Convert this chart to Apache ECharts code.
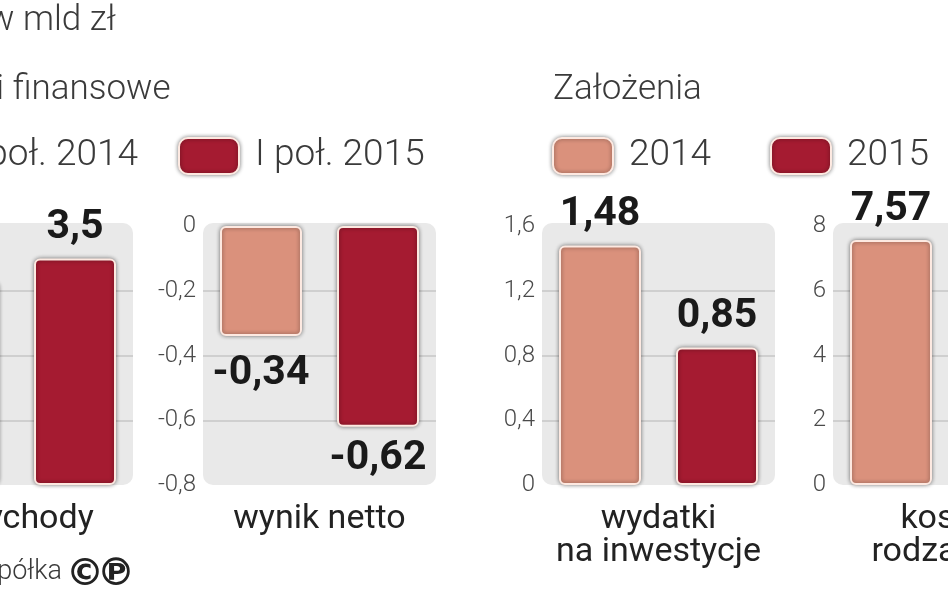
<!DOCTYPE html>
<html><head><meta charset="utf-8">
<script src="https://cdn.jsdelivr.net/npm/echarts@6/dist/echarts.min.js"></script>
<style>html,body{margin:0;padding:0;background:#fff}#c{width:948px;height:593px}</style>
</head><body><div id="c"></div>
<script>
// ---- data ----
const categories = ['przychody', 'wynik netto', 'wydatki\nna inwestycje', 'koszty\nrodzajowe'];
const seriesNames = [['I poł. 2014', 'I poł. 2015'], ['I poł. 2014', 'I poł. 2015'], ['2014', '2015'], ['2014', '2015']];
const values2014 = [3.14, -0.34, 1.48, 7.57];
const values2015 = [3.5, -0.62, 0.85, 7.2];
const axisMin = [0, -0.8, 0, 0];
const axisMax = [4, 0, 1.6, 8];
const axisStep = [1, 0.2, 0.4, 2];

// ---- layout / style ----
const panelLeft = [-100, 203, 542, 833];
const panelW = 233, panelTop = 226, panelH = 259;
const c2014 = '#da917c', c2015 = '#a51b31';
const fmt = v => String(+v.toFixed(2)).replace('.', ',');
const valueFont = "Roboto, sans-serif";
const barStyle = c => ({ color: c, borderColor: '#fde9e1', borderWidth: 2, borderRadius: 5,
  shadowBlur: 4, shadowColor: 'rgba(0,0,0,0.45)' });

const grids = [], xAxes = [], yAxes = [], series = [], graphics = [];
for (let i = 0; i < 4; i++) {
  grids.push({ left: panelLeft[i], top: panelTop, width: panelW, height: panelH,
    outerBoundsMode: 'none', containLabel: false });
  graphics.push({ type: 'rect', z: -10, shape: { x: panelLeft[i], y: panelTop - 3, width: panelW, height: panelH + 3, r: 10 },
    style: { fill: '#e9e9e9' } });
  xAxes.push({ type: 'category', gridIndex: i, data: [categories[i]],
    axisLine: { show: false }, axisTick: { show: false },
    axisLabel: { fontFamily: 'Roboto', fontSize: 34, lineHeight: 33, color: '#222', margin: 18 } });
  yAxes.push({ type: 'value', gridIndex: i, min: axisMin[i], max: axisMax[i], interval: axisStep[i],
    axisLine: { show: false }, axisTick: { show: false },
    axisLabel: { fontFamily: 'Roboto', fontWeight: 300, fontSize: 24, color: '#4a4a4a', margin: 7, formatter: fmt },
    splitLine: { show: true, showMinLine: false, showMaxLine: false, lineStyle: { color: '#c6c6c6', width: 1.5 } } });
  const neg = axisMax[i] <= 0;
  [[values2014, c2014, neg ? 17 : 10], [values2015, c2015, neg ? 12 : 10]].forEach(([vals, col, dist], k) => {
    series.push({ type: 'bar', name: seriesNames[i][k], xAxisIndex: i, yAxisIndex: i,
      data: [vals[i]], barWidth: 82, barGap: '42.7%',
      itemStyle: barStyle(col),
      label: { show: true, position: neg ? 'bottom' : 'top', distance: dist, formatter: p => fmt(p.value),
        fontFamily: valueFont, fontWeight: 'bold', fontSize: 41, color: '#1a1a1a' } });
  });
}

const legendBase = { orient: 'horizontal', padding: 0, top: 137, itemWidth: 60, itemHeight: 36, icon: 'roundRect',
  itemStyle: { borderColor: '#fde9e1', borderWidth: 2, shadowBlur: 4, shadowColor: 'rgba(0,0,0,0.45)' },
  textStyle: { fontFamily: 'Roboto', fontWeight: 300, fontSize: 37, color: '#3a3a3a', padding: [0, 0, 0, 11] },
  selectedMode: false };
const legends = [
  Object.assign({}, legendBase, { data: ['I poł. 2014'], right: 948 - 138 }),
  Object.assign({}, legendBase, { data: ['I poł. 2015'], left: 178 }),
  Object.assign({}, legendBase, { data: ['2014'], left: 552 }),
  Object.assign({}, legendBase, { data: ['2015'], left: 770 })
];

const titleStyle = { fontFamily: 'Roboto', fontWeight: 300, fontSize: 35, color: '#3a3a3a' };
const titles = [
  { text: 'w mld zł', left: -12, top: 4, padding: 0, textStyle: titleStyle },
  { text: 'Wyniki finansowe', left: -96, top: 73, padding: 0, textStyle: titleStyle },
  { text: 'Założenia', left: 553, top: 73, padding: 0, textStyle: titleStyle }
];
graphics.push({ type: 'text', style: { text: 'Źródło: spółka', x: 62, y: 559, align: 'right',
  font: '300 27px Roboto', fill: '#3a3a3a' } });
graphics.push({ type: 'text', style: { text: '©', x: 66, y: 556, font: 'bold 38px "DejaVu Sans"', fill: '#222' } });
graphics.push({ type: 'text', style: { text: '℗', x: 97, y: 556, font: 'bold 38px "DejaVu Sans"', fill: '#222' } });

const chart = echarts.init(document.getElementById('c'), null, { renderer: 'canvas' });
chart.setOption({
  animation: false,
  backgroundColor: '#fff',
  title: titles,
  legend: legends,
  grid: grids, xAxis: xAxes, yAxis: yAxes, series: series,
  graphic: graphics
});
</script></body></html>
